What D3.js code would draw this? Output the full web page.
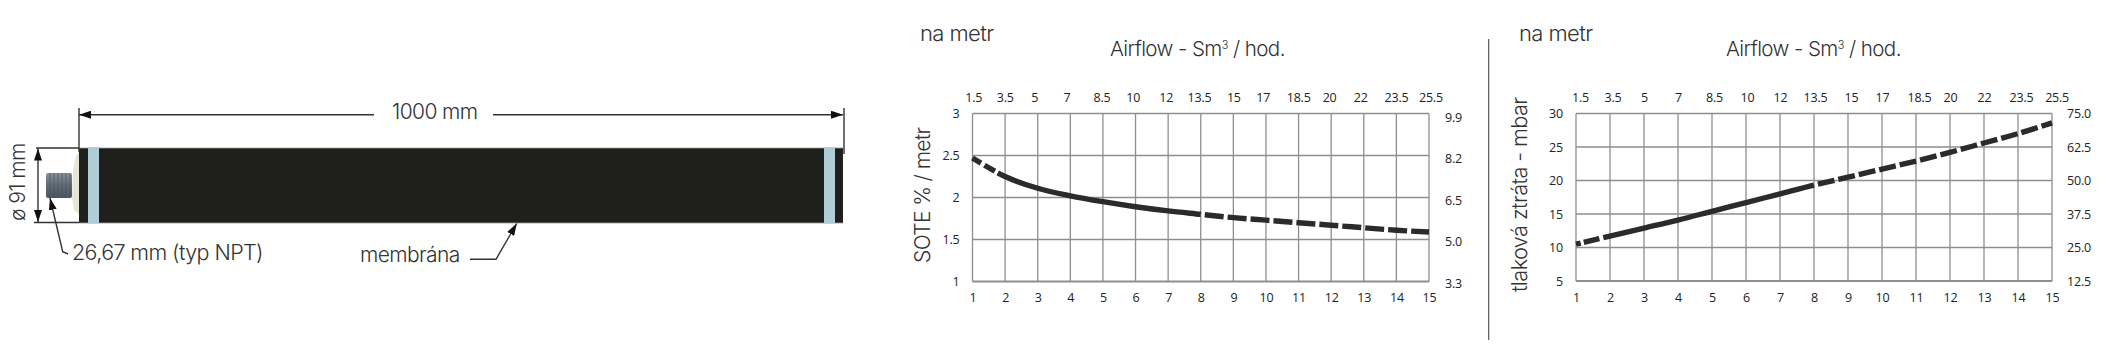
<!DOCTYPE html>
<html>
<head>
<meta charset="utf-8">
<title>Membrane diffuser</title>
<script src="https://d3js.org/d3.v7.min.js"></script>
<style>
  body { margin: 0; background: #fff; }
  text { font-family: Inter, "Open Sans", sans-serif; font-weight: 300; fill: #333; letter-spacing: -0.6px; }
  .tick text { font-family: "Open Sans", sans-serif; font-weight: 400; font-size: 12.5px; fill: #222; letter-spacing: -0.2px; }
</style>
</head>
<body>
<div id="container"></div>
<script>
// DATA
const airflow = [1, 2, 3, 4, 5, 6, 7, 8, 9, 10, 11, 12, 13, 14, 15];
const flowTop = ["1.5", "3.5", "5", "7", "8.5", "10", "12", "13.5", "15", "17", "18.5", "20", "22", "23.5", "25.5"];
const soteValues = [2.47, 2.25, 2.11, 2.02, 1.95, 1.89, 1.84, 1.80, 1.76, 1.73, 1.70, 1.67, 1.64, 1.61, 1.59];
const soteTicks = [1, 1.5, 2, 2.5, 3];
const soteRight = ["3.3", "5.0", "6.5", "8.2", "9.9"];
const lossValues = [10.5, 11.7, 12.9, 14.1, 15.4, 16.7, 18, 19.3, 20.5, 21.7, 22.9, 24.2, 25.6, 27, 28.6];
const lossTicks = [5, 10, 15, 20, 25, 30];
const lossRight = ["12.5", "25.0", "37.5", "50.0", "62.5", "75.0"];

// the upper labels sit a little off their grid lines in the original
const soteTopNudge = [0.7, -0.4, -3.6, -3.9, -1.4, -2.9, -2.5, -1.8, 0, -3.2, -0.4, -2.1, -3.6, -0.4, 1.4];
const lossTopNudge = [4, 2.5, 0, 0, 2, 1, 0, 1, 3, 0, 3, 0, 0, 3, 4.6];

const width = 2122, height = 364;
const svg = d3.select("#container").append("svg")
  .attr("width", width).attr("height", height)
  .style("display", "block");

const defs = svg.append("defs");
defs.append("marker").attr("id", "head")
  .attr("viewBox", "0 0 12 8").attr("refX", 12).attr("refY", 4)
  .attr("markerWidth", 12).attr("markerHeight", 8)
  .attr("markerUnits", "userSpaceOnUse").attr("orient", "auto")
  .append("path").attr("d", "M0,0L12,4L0,8Z").attr("fill", "#111");
const grad = defs.append("linearGradient").attr("id", "thread").attr("x1", 0).attr("x2", 0).attr("y1", 0).attr("y2", 1);
grad.append("stop").attr("offset", "0").attr("stop-color", "#8a929a");
grad.append("stop").attr("offset", "0.5").attr("stop-color", "#5f6a74");
grad.append("stop").attr("offset", "1").attr("stop-color", "#4c5660");

// PIPE DRAWING
const pipe = svg.append("g");
function dim(points, arrow) {
  const p = pipe.append("path")
    .attr("d", d3.line()(points))
    .attr("fill", "none").attr("stroke", "#333").attr("stroke-width", 1.4);
  if (arrow) p.attr("marker-end", "url(#head)");
  return p;
}
pipe.append("rect").attr("x", 79).attr("y", 148).attr("width", 764).attr("height", 75).attr("fill", "#1f201b");
[148, 223].forEach(y => {
  pipe.append("line").attr("x1", 79).attr("x2", 843).attr("y1", y).attr("y2", y)
    .attr("stroke", "#999").attr("stroke-width", 0.8);
});
[88, 824].forEach(x => {
  pipe.append("rect").attr("x", x).attr("y", 147).attr("width", 11).attr("height", 76.5).attr("fill", "#aecdd6");
});
pipe.append("path").attr("d", "M79,152L76,156L73,170L72,197L74,210L79,214Z").attr("fill", "#e6e5d6");
pipe.append("rect").attr("x", 46).attr("y", 173).attr("width", 26).attr("height", 25).attr("rx", 2).attr("fill", "url(#thread)");
d3.range(50, 72, 4).forEach(x => {
  pipe.append("line").attr("x1", x).attr("x2", x).attr("y1", 173).attr("y2", 198)
    .attr("stroke", "#46505a").attr("stroke-width", 0.7);
});
dim([[36, 148], [79, 148]]);
dim([[34, 222.5], [79, 222.5]]);
dim([[38, 185], [38, 148.5]], true);
dim([[38, 185], [38, 222]], true);
dim([[79, 108], [79, 152]]);
dim([[844, 108], [844, 154]]);
dim([[374, 114.7], [79, 114.7]], true);
dim([[493, 114.7], [843, 114.7]], true);
dim([[68, 254], [62.7, 251.7], [50, 198]], true);
dim([[470, 259.3], [496, 259.3], [516.7, 223.5]], true);

pipe.append("text").attr("x", 392).attr("y", 119).attr("font-size", 21).text("1000 mm");
pipe.append("text").attr("x", 72).attr("y", 260).attr("font-size", 21.5).text("26,67 mm (typ NPT)");
pipe.append("text").attr("x", 360).attr("y", 262).attr("font-size", 21).text("membrána");
pipe.append("text").attr("transform", "translate(25,221) rotate(-90)").attr("font-size", 21).text("ø 91 mm");

// CHARTS
function chart(opt) {
  const x = d3.scaleLinear().domain([1, 15]).range([opt.left, opt.right]);
  const y = d3.scaleLinear().domain(opt.yDomain).range([opt.bottom, opt.top]);
  const g = svg.append("g");

  // grid
  g.append("g").selectAll("line").data(airflow).join("line")
    .attr("x1", d => x(d)).attr("x2", d => x(d))
    .attr("y1", opt.top).attr("y2", opt.bottom)
    .attr("stroke", "#8e8e8e").attr("stroke-width", 1.3);
  g.append("g").selectAll("line").data(opt.yTicks).join("line")
    .attr("x1", opt.left).attr("x2", opt.right)
    .attr("y1", d => y(d)).attr("y2", d => y(d))
    .attr("stroke", "#8e8e8e").attr("stroke-width", d => d === opt.yDomain[0] ? 2.2 : 1.3);

  // axes
  const bottomAxis = g.append("g").attr("transform", "translate(0," + (opt.bottom + 12) + ")")
    .call(d3.axisBottom(x).tickValues(airflow).tickFormat(d3.format("d")).tickSize(0).tickPadding(0));
  const topScale = d3.scalePoint().domain(flowTop).range([opt.left, opt.right]);
  const topAxis = g.append("g").attr("transform", "translate(0," + (opt.top - 12) + ")")
    .call(d3.axisTop(topScale).tickSize(0).tickPadding(0));
  topAxis.selectAll(".tick text").attr("dx", (d, i) => opt.topNudge[i]);
  const leftAxis = g.append("g").attr("transform", "translate(" + (opt.left - 13) + ",0)")
    .call(d3.axisLeft(y).tickValues(opt.yTicks).tickFormat(d => d).tickSize(0).tickPadding(0));
  const rightScale = d3.scalePoint().domain(opt.rightLabels).range(opt.rightRange);
  const rightAxis = g.append("g").attr("transform", "translate(" + (opt.right + opt.rightGap) + ",0)")
    .call(d3.axisRight(rightScale).tickSize(0).tickPadding(0));
  [bottomAxis, topAxis, leftAxis, rightAxis].forEach(a => a.select(".domain").remove());

  // curve: one path, dashed at both ends, solid from 2 to 8
  const points = airflow.map((d, i) => [x(d), y(opt.values[i])]);
  const line = d3.line().curve(d3.curveCatmullRom);
  const curve = g.append("path")
    .attr("d", line(points)).attr("fill", "none")
    .attr("stroke", "#2b2b2b").attr("stroke-width", 5.4);
  const total = curve.node().getTotalLength();
  const lengthTo = pts => {
    const tmp = g.append("path").attr("d", line(pts));
    const l = tmp.node().getTotalLength();
    tmp.remove();
    return l;
  };
  const startLen = lengthTo(points.slice(0, 2));
  const solidEnd = lengthTo(points.slice(0, 8));
  const lead = d3.sum(opt.dashStart);
  const dash = [...opt.dashStart, solidEnd - lead, opt.dashEnd[1]];
  let run = solidEnd + opt.dashEnd[1];
  while (run < total) {
    dash.push(opt.dashEnd[0], opt.dashEnd[1]);
    run += opt.dashEnd[0] + opt.dashEnd[1];
  }
  curve.attr("stroke-dasharray", dash.join(" "));

  // titles
  g.append("text").attr("x", opt.naX).attr("y", 41).attr("font-size", 22).text("na metr");
  const title = g.append("text").attr("x", opt.titleX).attr("y", 56).attr("font-size", 20.6);
  title.append("tspan").text("Airflow - Sm");
  title.append("tspan").attr("font-size", 11).attr("dy", -7).text("3");
  title.append("tspan").attr("dy", 7).text(" / hod.");
  g.append("text")
    .attr("transform", "translate(" + opt.yTitleX + "," + opt.yTitleY + ") rotate(-90)")
    .attr("font-size", opt.yTitleSize).text(opt.yTitle);
}

chart({
  left: 972.5, right: 1429, top: 113.5, bottom: 281.5,
  yDomain: [1, 3], yTicks: soteTicks, values: soteValues,
  rightLabels: soteRight, rightRange: [283, 117], rightGap: 16,
  topNudge: soteTopNudge,
  dashStart: [10, 4, 12, 3], dashEnd: [19, 4],
  naX: 920, titleX: 1110, yTitle: "SOTE % / metr",
  yTitleX: 930, yTitleY: 263, yTitleSize: 21
});
chart({
  left: 1576, right: 2052, top: 113.5, bottom: 281,
  yDomain: [5, 30], yTicks: lossTicks, values: lossValues,
  rightLabels: lossRight, rightRange: [281, 113.5], rightGap: 15,
  topNudge: lossTopNudge,
  dashStart: [5, 3, 16, 4], dashEnd: [17, 4],
  naX: 1519, titleX: 1726, yTitle: "tlaková ztráta - mbar",
  yTitleX: 1527, yTitleY: 292, yTitleSize: 21.7
});

// divider between the two charts
svg.append("line").attr("x1", 1488.7).attr("x2", 1488.7).attr("y1", 39).attr("y2", 340)
  .attr("stroke", "#555").attr("stroke-width", 1.2);
</script>
</body>
</html>
